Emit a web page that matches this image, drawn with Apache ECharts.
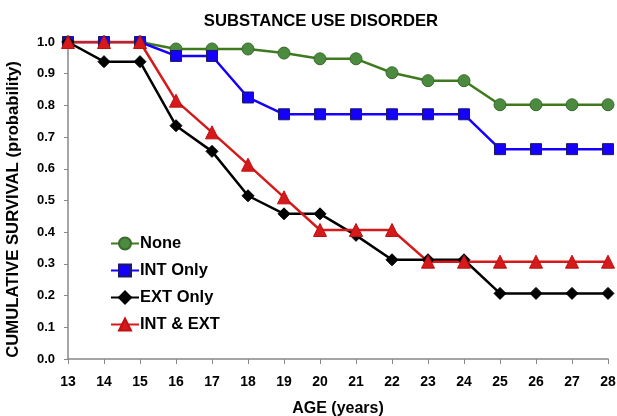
<!DOCTYPE html>
<html><head><meta charset="utf-8">
<script src="https://cdn.jsdelivr.net/npm/echarts@6/dist/echarts.min.js"></script>
<style>html,body{margin:0;padding:0;background:#fff}#c{width:617px;height:416px}</style>
</head><body><div id="c"></div>
<script>
const ages = [13,14,15,16,17,18,19,20,21,22,23,24,25,26,27,28];
const noneVals   = [1.0,1.0,1.0,0.978,0.978,0.978,0.965,0.947,0.947,0.903,0.878,0.878,0.802,0.802,0.802,0.802];
const intOnly    = [1.0,1.0,1.0,0.956,0.956,0.825,0.772,0.772,0.772,0.772,0.772,0.772,0.662,0.662,0.662,0.662];
const extOnly    = [1.0,0.938,0.938,0.736,0.655,0.515,0.458,0.458,0.39,0.313,0.313,0.313,0.207,0.207,0.207,0.207];
const intExt     = [1.0,1.0,1.0,0.815,0.715,0.613,0.51,0.407,0.407,0.407,0.307,0.307,0.307,0.307,0.307,0.307];
const seriesNames = ['None','INT Only','EXT Only','INT & EXT'];

const font = 'Arial, "Liberation Sans", sans-serif';
function pairs(v){ return ages.map((a,i)=>[a,v[i]]); }
function mk(name, vals, color, fill, border, symbol, size){
  return {name, type:'line', data:pairs(vals), symbol, symbolSize:size,
    lineStyle:{color, width:2.5}, itemStyle:{color:fill, borderColor:border, borderWidth:1},
    emphasis:{disabled:true}};
}
const chart = echarts.init(document.getElementById('c'), null, {renderer:'canvas'});
chart.setOption({
  animation:false,
  backgroundColor:'#fff',
  title:{text:'SUBSTANCE USE DISORDER', left:316, top:8, textAlign:'center',
    textStyle:{fontFamily:font, fontWeight:'bold', fontSize:16.7, color:'#000'}},
  grid:{left:68, right:9, top:42, bottom:57, outerBoundsMode:'none', containLabel:false},
  xAxis:{type:'value', min:13, max:28, interval:1,
    name:'AGE (years)', nameLocation:'middle', nameGap:42,
    nameTextStyle:{fontFamily:font, fontWeight:'bold', fontSize:16, color:'#000'},
    axisLine:{lineStyle:{color:'#888', width:1.5}},
    axisTick:{inside:false, length:5, lineStyle:{color:'#888'}},
    axisLabel:{fontFamily:font, fontWeight:'bold', fontSize:14, color:'#000', margin:16},
    splitLine:{show:false}},
  yAxis:{type:'value', min:0, max:1, interval:0.1,
    name:'CUMULATIVE SURVIVAL (probability)', nameLocation:'middle', nameGap:46,
    nameTextStyle:{fontFamily:font, fontWeight:'bold', fontSize:16.7, color:'#000', padding:[0,18,0,0]},
    axisLine:{show:true, lineStyle:{color:'#888', width:1.5}},
    axisTick:{show:true, length:4, lineStyle:{color:'#888'}},
    axisLabel:{fontFamily:font, fontWeight:'bold', fontSize:13, color:'#000', margin:13,
      formatter:v=>v.toFixed(1)},
    splitLine:{show:false}},
  legend:{orient:'vertical', left:105, top:230, itemGap:10, itemWidth:28, itemHeight:15,
    data:seriesNames,
    textStyle:{fontFamily:font, fontWeight:'bold', fontSize:16.5, color:'#000', padding:[0,0,0,-4]}},
  series:[
    mk(seriesNames[0], noneVals, '#3f7a1e', '#4c8a40', '#3a6b2a', 'circle', 12),
    mk(seriesNames[1], intOnly, '#1500ff', '#1500ff', '#1a1a60', 'rect', 11),
    mk(seriesNames[2], extOnly, '#000000', '#000000', '#000000', 'diamond', 12),
    mk(seriesNames[3], intExt, '#d41a1a', '#d41a1a', '#c01010', 'triangle', 13)
  ]
});
</script></body></html>
